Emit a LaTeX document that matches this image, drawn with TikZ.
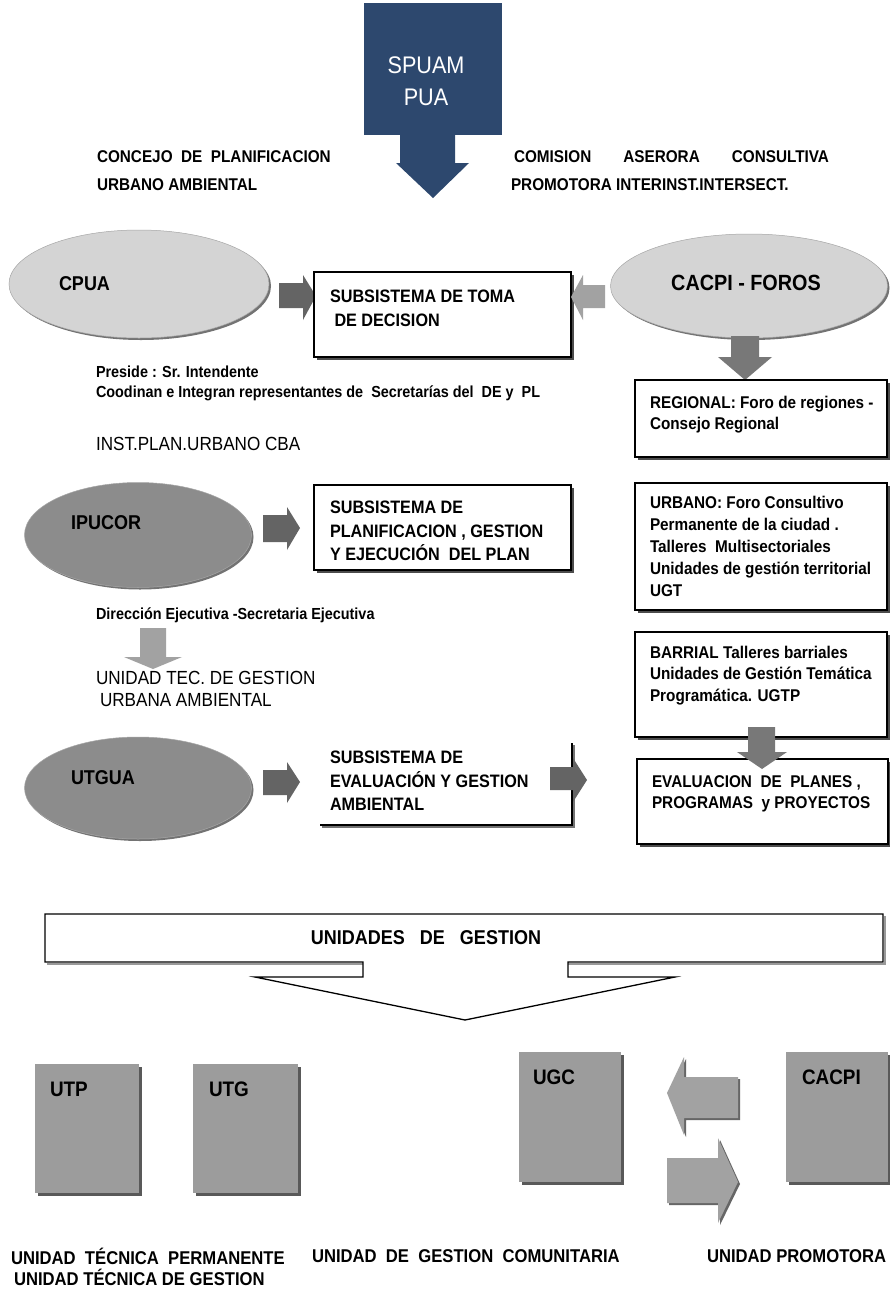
\documentclass[tikz,border=0pt]{standalone}
\usepackage{fontspec}
\setmainfont{Liberation Sans}[FakeStretch=0.9]
\usetikzlibrary{shapes.geometric,shadows}
\definecolor{navy}{RGB}{45,72,110}
\definecolor{lightell}{RGB}{212,212,212}
\definecolor{darkell}{RGB}{140,140,140}
\definecolor{darkarrow}{RGB}{100,100,100}
\definecolor{midarrow}{RGB}{120,120,120}
\definecolor{lightarrow}{RGB}{162,162,162}
\definecolor{unitgray}{RGB}{156,156,156}
\begin{document}
\begin{tikzpicture}[x=1pt,y=-1pt,
  every node/.style={inner sep=0pt, outer sep=0pt},
  txt/.style={font=\fontsize{17}{22}\selectfont\bfseries, align=left, anchor=north west},
  one/.style={font=\fontsize{17}{22}\selectfont\bfseries, anchor=west},
  big/.style={font=\fontsize{20}{24}\selectfont\bfseries, anchor=west},
  bot/.style={font=\fontsize{18.5}{22}\selectfont\bfseries, anchor=west},
  small/.style={font=\fontsize{16}{20}\selectfont\bfseries, anchor=west},
  plain/.style={font=\fontsize{19}{22}\selectfont, anchor=west},
  wbox/.style={rectangle, draw=black, line width=1.4pt, fill=white, anchor=north west,
    drop shadow={shadow xshift=3pt, shadow yshift=-3pt, fill=black!70, opacity=1}},
  ell/.style={ellipse, draw=gray!70, line width=0.5pt,
    drop shadow={shadow xshift=2pt, shadow yshift=-2pt, fill=black!55, opacity=1}},
  unit/.style={rectangle, fill=unitgray, anchor=north west,
    drop shadow={shadow xshift=3pt, shadow yshift=-3pt, fill=black!65, opacity=1}},
]
\fill[white] (0,0) rectangle (890,1291);
\useasboundingbox (0,0) rectangle (890,1291);

% ---------- top ----------
\node[rectangle, fill=navy, anchor=north west, minimum width=138pt, minimum height=132pt] (spuam) at (364,3) {};
\node[font=\fontsize{24}{32}\selectfont, text=white, align=center] (spuamt) at (426,81) {SPUAM\\PUA};
\fill[navy] (400,134) -- (455,134) -- (455,163) -- (469,163) -- (433,198) -- (396,163) -- (400,163) -- cycle;

\node[one] (concejo) at (97,157) {CONCEJO\ \ DE\ \ PLANIFICACION};
\node[one] (urbamb) at (97,185) {URBANO AMBIENTAL};
\node[one] (comision) at (514,157) {\makebox[315pt][l]{COMISION\hfill ASERORA\hfill CONSULTIVA}};
\node[one] (promotora) at (511,185) {PROMOTORA INTERINST.INTERSECT.};

% ---------- row 1 ----------
\node[ell, fill=lightell, minimum width=260pt, minimum height=108pt] (cpua) at (139,284) {};
\node[big] (cpual) at (59,284) {CPUA};
\fill[darkarrow] (279,283) -- (303,283) -- (303,275) -- (316,296) -- (303,320) -- (303,308) -- (279,308) -- cycle;
\node[wbox, minimum width=257pt, minimum height=85pt] (sub1) at (314,272) {};
\node[txt, font=\fontsize{18}{24}\selectfont\bfseries] (sub1t) at (330,290) {SUBSISTEMA DE TOMA\\\ DE DECISION};
\fill[lightarrow] (605,285) -- (583,285) -- (583,275) -- (571,297) -- (583,320) -- (583,308) -- (605,308) -- cycle;

\node[ell, fill=lightell, minimum width=277pt, minimum height=104pt] (cacpif) at (749,286) {};
\node[font=\fontsize{22}{24}\selectfont\bfseries] (cacpifl) at (746,283) {CACPI - FOROS};
\fill[midarrow] (731,336) -- (759,336) -- (759,357) -- (772,357) -- (745,380) -- (718,357) -- (731,357) -- cycle;

\node[wbox, minimum width=252pt, minimum height=77pt] (regional) at (635,380) {};
\node[txt, font=\fontsize{17}{21}\selectfont\bfseries] (regionalt) at (650,396) {REGIONAL: Foro de regiones -\\Consejo Regional};

\node[small] (preside) at (96,372) {Preside : Sr. Intendente};
\node[small] (coodinan) at (96,393) {Coodinan e Integran representantes de\ \ Secretarías del\ \ DE y\ \ PL};
\node[plain] (inst) at (96,444) {INST.PLAN.URBANO CBA};

% ---------- row 2 ----------
\node[ell, fill=darkell, minimum width=227pt, minimum height=105pt] (ipucor) at (138,535) {};
\node[big] (ipucorl) at (71,523) {IPUCOR};
\fill[darkarrow] (263,515) -- (287,515) -- (287,507) -- (300,528) -- (287,550) -- (287,542) -- (263,542) -- cycle;
\node[wbox, minimum width=257pt, minimum height=85pt] (sub2) at (314,485) {};
\node[txt, font=\fontsize{18}{23.5}\selectfont\bfseries] (sub2t) at (330,501) {SUBSISTEMA DE\\PLANIFICACION , GESTION\\Y EJECUCIÓN\ \ DEL PLAN};

\node[wbox, minimum width=252pt, minimum height=127pt] (urbano) at (635,483) {};
\node[txt, font=\fontsize{17}{22}\selectfont\bfseries] (urbanot) at (650,496) {URBANO: Foro Consultivo\\Permanente de la ciudad .\\Talleres\ \ Multisectoriales\\Unidades de gestión territorial\\UGT};

\node[small] (direccion) at (96,615) {Dirección Ejecutiva -Secretaria Ejecutiva};
\fill[lightarrow] (140,628) -- (166,628) -- (166,657) -- (182,657) -- (153,669) -- (124,657) -- (140,657) -- cycle;
\node[plain] (unidadtec) at (96,678) {UNIDAD TEC. DE GESTION};
\node[plain] (urbana) at (100,700) {URBANA AMBIENTAL};

\node[wbox, minimum width=252pt, minimum height=105pt] (barrial) at (635,632) {};
\node[txt, font=\fontsize{17}{21.5}\selectfont\bfseries] (barrialt) at (650,646) {BARRIAL Talleres barriales\\Unidades de Gestión Temática\\Programática. UGTP};

% ---------- row 3 ----------
\node[ell, fill=darkell, minimum width=227pt, minimum height=102pt] (utgua) at (138,788) {};
\node[big] (utgual) at (71,778) {UTGUA};
\fill[darkarrow] (263,770) -- (287,770) -- (287,762) -- (300,782) -- (287,803) -- (287,795) -- (263,795) -- cycle;
\draw[black!55, line width=1.6pt] (322,827) -- (574,827) -- (574,745);
\draw[black, line width=1.4pt] (320,825) -- (572,825) -- (572,743);
\node[txt, font=\fontsize{18}{23.5}\selectfont\bfseries] (sub3t) at (330,751) {SUBSISTEMA DE\\EVALUACIÓN Y GESTION\\AMBIENTAL};
\fill[darkarrow] (550,767) -- (573,767) -- (573,758) -- (587,780) -- (573,802) -- (573,790) -- (550,790) -- cycle;

\node[wbox, minimum width=251pt, minimum height=85pt] (evaluacion) at (637,759) {};
\node[txt, font=\fontsize{17}{21}\selectfont\bfseries] (evaluaciont) at (652,776) {EVALUACION\ \ DE\ \ PLANES ,\\PROGRAMAS\ \ y PROYECTOS};
\fill[midarrow] (748,727) -- (775,727) -- (775,752) -- (787,752) -- (762,769) -- (737,752) -- (748,752) -- cycle;

% ---------- bottom ----------
\draw[black!40, line width=1.2pt] (47,964) -- (363,964);
\draw[black!40, line width=1.2pt] (568,964) -- (885,964) -- (885,916);
\draw[black, line width=1.3pt, fill=white] (45,914) -- (883,914) -- (883,962) -- (568,962) -- (568,977) -- (675,977) -- (465,1020) -- (255,977) -- (363,977) -- (363,962) -- (45,962) -- cycle;
\node[font=\fontsize{20}{22}\selectfont\bfseries] (unidades) at (426,938) {UNIDADES\ \ \ DE\ \ \ GESTION};

\node[unit, minimum width=104pt, minimum height=129pt] (utp) at (35,1064) {};
\node[one, font=\fontsize{21}{22}\selectfont\bfseries] (utpl) at (50,1089) {UTP};
\node[unit, minimum width=105pt, minimum height=129pt] (utg) at (193,1064) {};
\node[one, font=\fontsize{21}{22}\selectfont\bfseries] (utgl) at (209,1089) {UTG};
\node[unit, minimum width=102pt, minimum height=130pt] (ugc) at (519,1052) {};
\node[one, font=\fontsize{21}{22}\selectfont\bfseries] (ugcl) at (533,1077) {UGC};
\node[unit, minimum width=102pt, minimum height=130pt] (cacpi) at (786,1052) {};
\node[one, font=\fontsize{21}{22}\selectfont\bfseries] (cacpil) at (802,1077) {CACPI};

\fill[lightarrow, drop shadow={shadow xshift=2pt, shadow yshift=-2pt, fill=black!60, opacity=1}] (738,1077) -- (684,1077) -- (684,1057) -- (667,1093) -- (684,1135) -- (684,1118) -- (738,1118) -- cycle;
\fill[lightarrow, drop shadow={shadow xshift=2pt, shadow yshift=-2pt, fill=black!60, opacity=1}] (667,1158) -- (718,1158) -- (718,1138) -- (738,1182) -- (718,1223) -- (718,1203) -- (667,1203) -- cycle;

\node[bot] (utptxt) at (11,1256) {UNIDAD\ \ TÉCNICA\ \ PERMANENTE};
\node[bot] (utgtxt) at (14,1277) {UNIDAD TÉCNICA DE GESTION};
\node[bot] (ugctxt) at (312,1256) {UNIDAD\ \ DE\ \ GESTION\ \ COMUNITARIA};
\node[bot] (cacpitxt) at (707,1256) {UNIDAD PROMOTORA};
\end{tikzpicture}
\end{document}
